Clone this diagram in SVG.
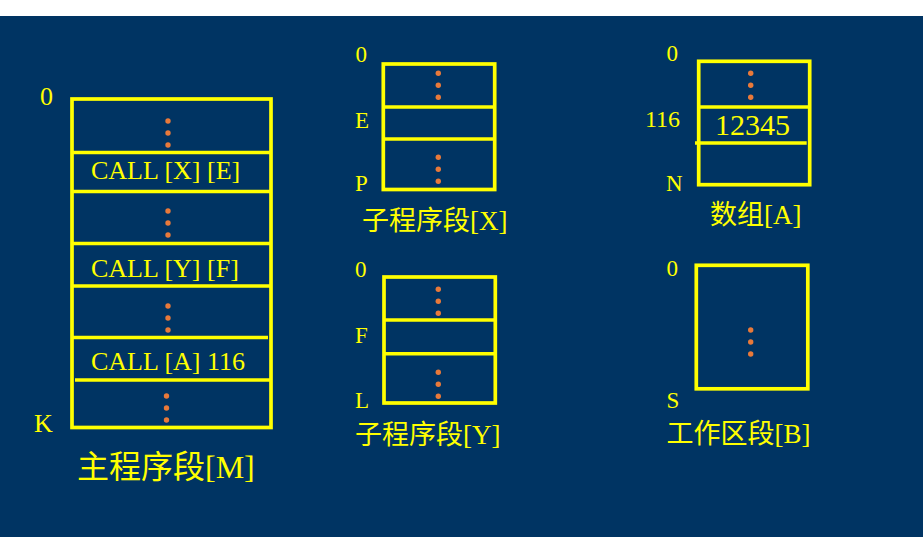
<svg xmlns="http://www.w3.org/2000/svg" width="923" height="537" viewBox="0 0 923 537">
<style>
.box{fill:none;stroke:#FFFF00;stroke-width:3.7}
.ln{stroke:#FFFF00;stroke-width:3.6}
.dot{fill:#E8793A}
.t{fill:#FFFF00;font-family:"Liberation Serif","Noto Sans CJK SC",serif}
</style>
<defs>
<g id="dots"><circle cx="0" cy="0" r="2.7"/><circle cx="0" cy="12" r="2.7"/><circle cx="0" cy="24" r="2.7"/></g>
</defs>
<rect x="0" y="0" width="923" height="537" fill="#003463"/>
<rect x="0" y="0" width="923" height="16" fill="#FFFFFF"/>

<g id="main-M">
<rect class="box" x="72" y="99" width="199" height="328.5"/>
<line class="ln" x1="72" y1="152.5" x2="271" y2="152.5"/>
<line class="ln" x1="72" y1="191.5" x2="271" y2="191.5"/>
<line class="ln" x1="72" y1="243.5" x2="271" y2="243.5"/>
<line class="ln" x1="72" y1="286" x2="271" y2="286"/>
<line class="ln" x1="72" y1="337.5" x2="268" y2="337.5"/>
<line class="ln" x1="75" y1="380" x2="271" y2="380"/>
<use href="#dots" class="dot" x="168" y="121"/>
<use href="#dots" class="dot" x="168" y="211"/>
<use href="#dots" class="dot" x="168" y="306"/>
<use href="#dots" class="dot" x="166.5" y="396"/>
<text class="t" x="91" y="179" font-size="26">CALL [X] [E]</text>
<text class="t" x="91" y="277" font-size="26">CALL [Y] [F]</text>
<text class="t" x="91" y="370" font-size="26">CALL [A] 116</text>
<text class="t" x="40" y="105" font-size="26">0</text>
<text class="t" x="34" y="431.5" font-size="26">K</text>
<text class="t" x="77" y="478" font-size="32">主程序段[M]</text>
</g>

<g id="sub-X">
<rect class="box" x="383.3" y="64" width="111.4" height="125.5"/>
<line class="ln" x1="383.3" y1="107" x2="494.7" y2="107"/>
<line class="ln" x1="383.3" y1="139" x2="494.7" y2="139"/>
<use href="#dots" class="dot" x="438.3" y="73.3"/>
<use href="#dots" class="dot" x="438.3" y="157.3"/>
<text class="t" x="355.5" y="61.5" font-size="23">0</text>
<text class="t" x="355" y="127.5" font-size="23">E</text>
<text class="t" x="355" y="191" font-size="23">P</text>
<text class="t" x="362" y="230" font-size="27">子程序段[X]</text>
</g>

<g id="sub-Y">
<rect class="box" x="384" y="277" width="111.3" height="126"/>
<line class="ln" x1="384" y1="320" x2="495.3" y2="320"/>
<line class="ln" x1="384" y1="353.7" x2="495.3" y2="353.7"/>
<use href="#dots" class="dot" x="438.3" y="289.3"/>
<use href="#dots" class="dot" x="438.3" y="372.3"/>
<text class="t" x="355" y="276.5" font-size="23">0</text>
<text class="t" x="355" y="342.5" font-size="23">F</text>
<text class="t" x="355" y="407.5" font-size="23">L</text>
<text class="t" x="355" y="443.5" font-size="27">子程序段[Y]</text>
</g>

<g id="array-A">
<rect class="box" x="698.7" y="61.3" width="111" height="123.4"/>
<line class="ln" x1="698.7" y1="107" x2="809.7" y2="107"/>
<line class="ln" x1="695" y1="143" x2="806.7" y2="143"/>
<use href="#dots" class="dot" x="750.7" y="73.3"/>
<text class="t" x="715" y="135" font-size="30">12345</text>
<text class="t" x="666.5" y="60.5" font-size="23">0</text>
<text class="t" x="645" y="126.5" font-size="24">116</text>
<text class="t" x="666" y="191" font-size="23">N</text>
<text class="t" x="710" y="224" font-size="27">数组[A]</text>
</g>

<g id="work-B">
<rect class="box" x="696.3" y="265.3" width="111.5" height="123.5"/>
<use href="#dots" class="dot" x="750.7" y="330"/>
<text class="t" x="666.5" y="276" font-size="23">0</text>
<text class="t" x="666.5" y="407.5" font-size="23">S</text>
<text class="t" x="666.5" y="443" font-size="27">工作区段[B]</text>
</g>

<g id="connectors"></g>
</svg>
